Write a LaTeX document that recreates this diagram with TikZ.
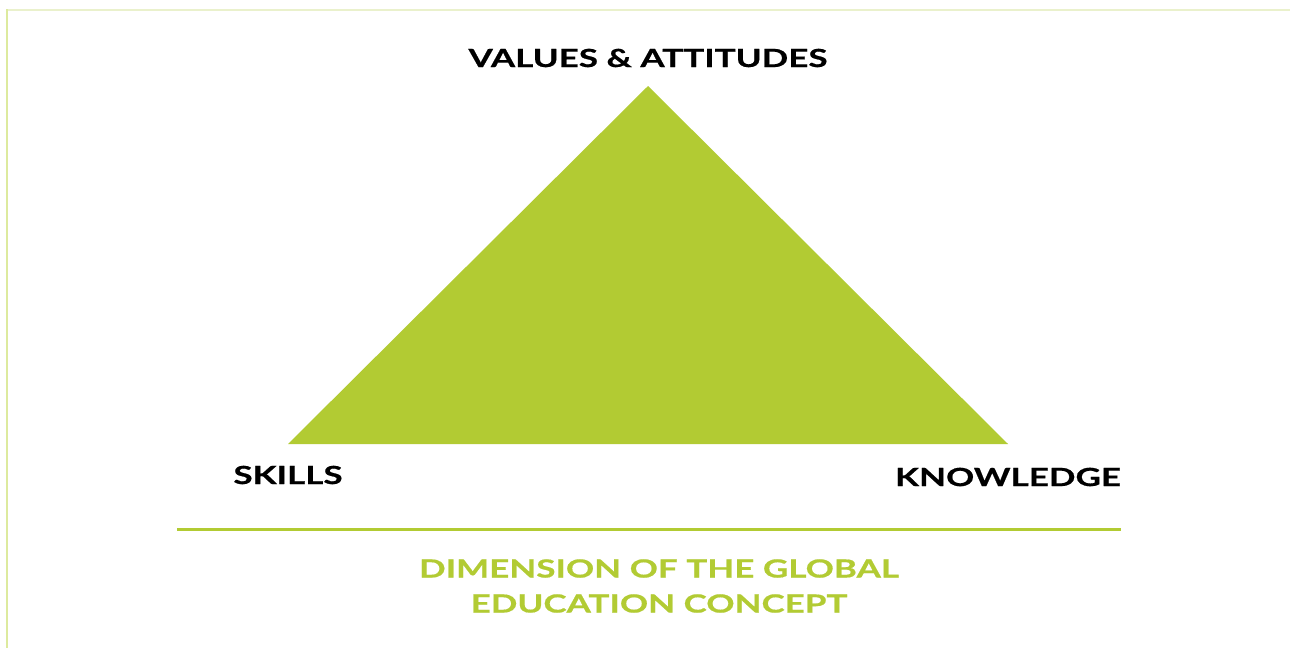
\documentclass[tikz,border=0pt]{standalone}
\usepackage{fontspec}
\setmainfont{Lato}[BoldFeatures={FakeStretch=1.4,FakeBold=0.6}]
\definecolor{tri}{HTML}{B2CB33}
\definecolor{frameA}{HTML}{EAF1CC}
\definecolor{frameB}{HTML}{DDEA9E}
\begin{document}
\begin{tikzpicture}[x=1pt,y=-1pt,
  lbl/.style={font=\fontsize{25}{28}\selectfont\bfseries, text=black, inner sep=0pt},
  captiontext/.style={font=\fontsize{25}{35}\selectfont\bfseries, text=tri, inner sep=0pt, align=center}]
\useasboundingbox (0,0) rectangle (1290,648);
\fill[white] (0,0) rectangle (1290,648);
\draw[frameA, line width=2pt] (6,10) -- (1290,10);
\draw[frameB, line width=2pt] (7,9) -- (7,648);
\coordinate (apex) at (648,86);
\coordinate (bl) at (288,444);
\coordinate (br) at (1008,444);
\fill[tri] (apex) -- (bl) -- (br) -- cycle;
\node[lbl] (va) at (648,58) {VALUES \& ATTITUDES};
\node[lbl] (sk) at (288,475) {SKILLS};
\node[lbl] (kn) at (1008,477) {KNOWLEDGE};
\coordinate (l1) at (177,529);
\coordinate (l2) at (1121,529);
\draw[tri, line width=3pt] (l1) -- (l2);
\node[captiontext] (dim) at (659,586) {DIMENSION OF THE GLOBAL\\EDUCATION CONCEPT};
\end{tikzpicture}
\end{document}
